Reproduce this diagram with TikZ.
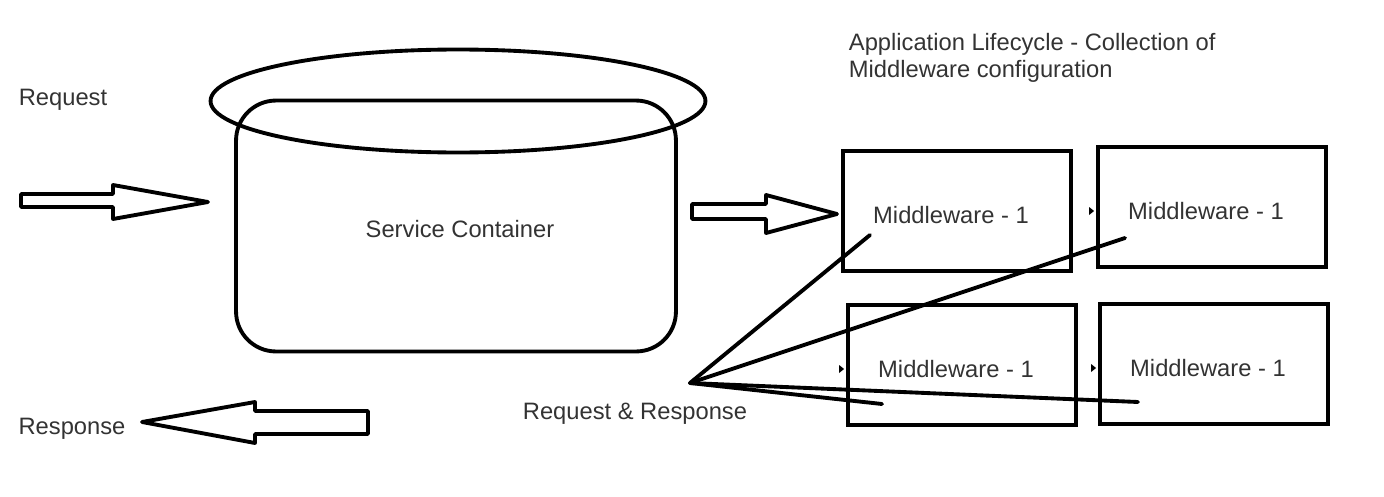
\documentclass[tikz,border=0pt]{standalone}
\usepackage{fontspec}
\setmainfont{Liberation Sans}
\usetikzlibrary{shapes.geometric,calc}

\begin{document}
\begin{tikzpicture}[x=0.02cm, y=-0.02cm, line width=2.2pt,
	every node/.style={font=\fontsize{13.5}{15.5}\selectfont, text=black!80}]
\useasboundingbox (0,0) rectangle (1384,497);

% Labels
\node (Request) at (63,100) {Request};
\node (Response) at (72,429) {Response};
\node (Both) at (635,414) {Request \& Response};
\node[anchor=north west, align=left, inner sep=0pt] (Title) at (847,31)
	{Application Lifecycle - Collection of\\Middleware configuration};

% Service container
\node[draw, rounded corners=0.8cm, minimum width=8.8cm, minimum height=5.02cm]
	(Container) at (456,226) {};
\node (Container-text) at (460,229) {Service Container};
\node[draw, ellipse, minimum width=9.9cm, minimum height=2.06cm]
	(Lid) at (458,101) {};

% Block arrows
\draw[line join=round] (21,194) -- (113,194) -- (113,185) -- (208,202)
	-- (113,219) -- (113,207) -- (21,207) -- cycle;
\draw[line join=round] (692,204) -- (766,204) -- (766,195) -- (837,214)
	-- (766,233) -- (766,219) -- (692,219) -- cycle;
\draw[line join=round] (368,411) -- (255,411) -- (255,402) -- (142,422)
	-- (255,443) -- (255,434) -- (368,434) -- cycle;

% Middleware boxes
\foreach \i/\x/\y in {1/957/211, 2/1212/207, 3/962/365, 4/1214/364}
{
	\node[draw, minimum width=4.56cm, minimum height=2.4cm]
		(Mw-\i) at (\x,\y) {};
	\node (Mw-\i-text) at ($(Mw-\i.center)+(-6,4)$) {Middleware - 1};
}

% Small tips in front of the boxes
\foreach \i in {2,3,4}
{
	\fill ($(Mw-\i.west)+(-7,0)$) -- ++(5,4) -- ++(-5,4) -- cycle;
}

% Request & Response lines
\coordinate (Hub) at (690,383);
\foreach \i/\dx/\dy in {1/-87/24, 2/-87/31, 3/-80/39, 4/-76/38}
{
	\draw[line cap=round] (Hub) -- ($(Mw-\i.center)+(\dx,\dy)$);
}
\end{tikzpicture}
\end{document}
